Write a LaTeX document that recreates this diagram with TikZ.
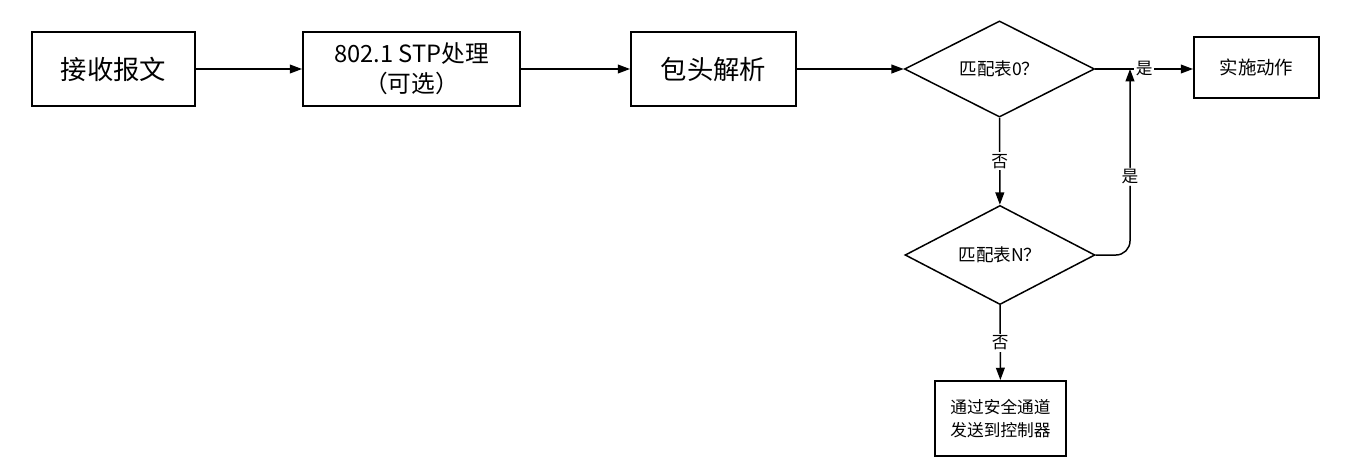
\documentclass[tikz,border=0pt]{standalone}
\usepackage{fontspec}
\newfontfamily\cjk{Noto Sans CJK SC}
\usetikzlibrary{shapes.geometric,arrows.meta}

\begin{document}
\begin{tikzpicture}[x=.02cm,y=-.02cm,font=\cjk,
  box/.style={draw,line width=1.1pt,inner sep=0pt,align=center},
  dec/.style={draw,diamond,line width=.85pt,inner sep=0pt,minimum width=3.8cm,minimum height=1.84cm,font=\cjk\fontsize{10}{12}\selectfont},
  arr/.style={line width=.85pt,-{Triangle[length=7pt,width=5pt]}},
  lbl/.style={fill=white,inner sep=1pt,font=\cjk\fontsize{9.5}{11}\selectfont}]
\useasboundingbox (0,0) rectangle (1347,461);
% main row
\node[box,minimum width=3.26cm,minimum height=1.48cm,font=\cjk\fontsize{15}{18}\selectfont] (recv) at (113.5,69) {接收报文};
\node[box,minimum width=4.34cm,minimum height=1.48cm,font=\cjk\fontsize{13.5}{17}\selectfont] (stp) at (411.5,69) {802.1 STP处理\\（可选）};
\node[box,minimum width=3.3cm,minimum height=1.48cm,font=\cjk\fontsize{15}{18}\selectfont] (parse) at (713.5,69) {包头解析};
\node[dec] (m0) at (999.5,69) {匹配表0？};
\node[box,minimum width=2.5cm,minimum height=1.22cm,font=\cjk\fontsize{10.5}{13}\selectfont] (act) at (1256.5,67.5) {实施动作};
% fall through
\node[dec] (mN) at (1000,255) {匹配表N？};
\node[box,minimum width=2.62cm,minimum height=1.5cm,font=\cjk\fontsize{9.5}{13}\selectfont] (ctrl) at (1000.5,418.5) {通过安全通道\\发送到控制器};
\coordinate (join) at (1130,69);

\draw[arr] (recv) -- (stp);
\draw[arr] (stp) -- (parse);
\draw[arr] (parse) -- (m0);
\draw[arr] (m0.east) -- node[lbl] {是} (m0.east -| act.west);
\draw[arr] (m0) -- node[lbl] {否} (mN);
\draw[arr,rounded corners=8pt] (mN.east) -| node[lbl,pos=.71] {是} (join);
\draw[arr] (mN) -- node[lbl] {否} (ctrl);
\end{tikzpicture}
\end{document}
